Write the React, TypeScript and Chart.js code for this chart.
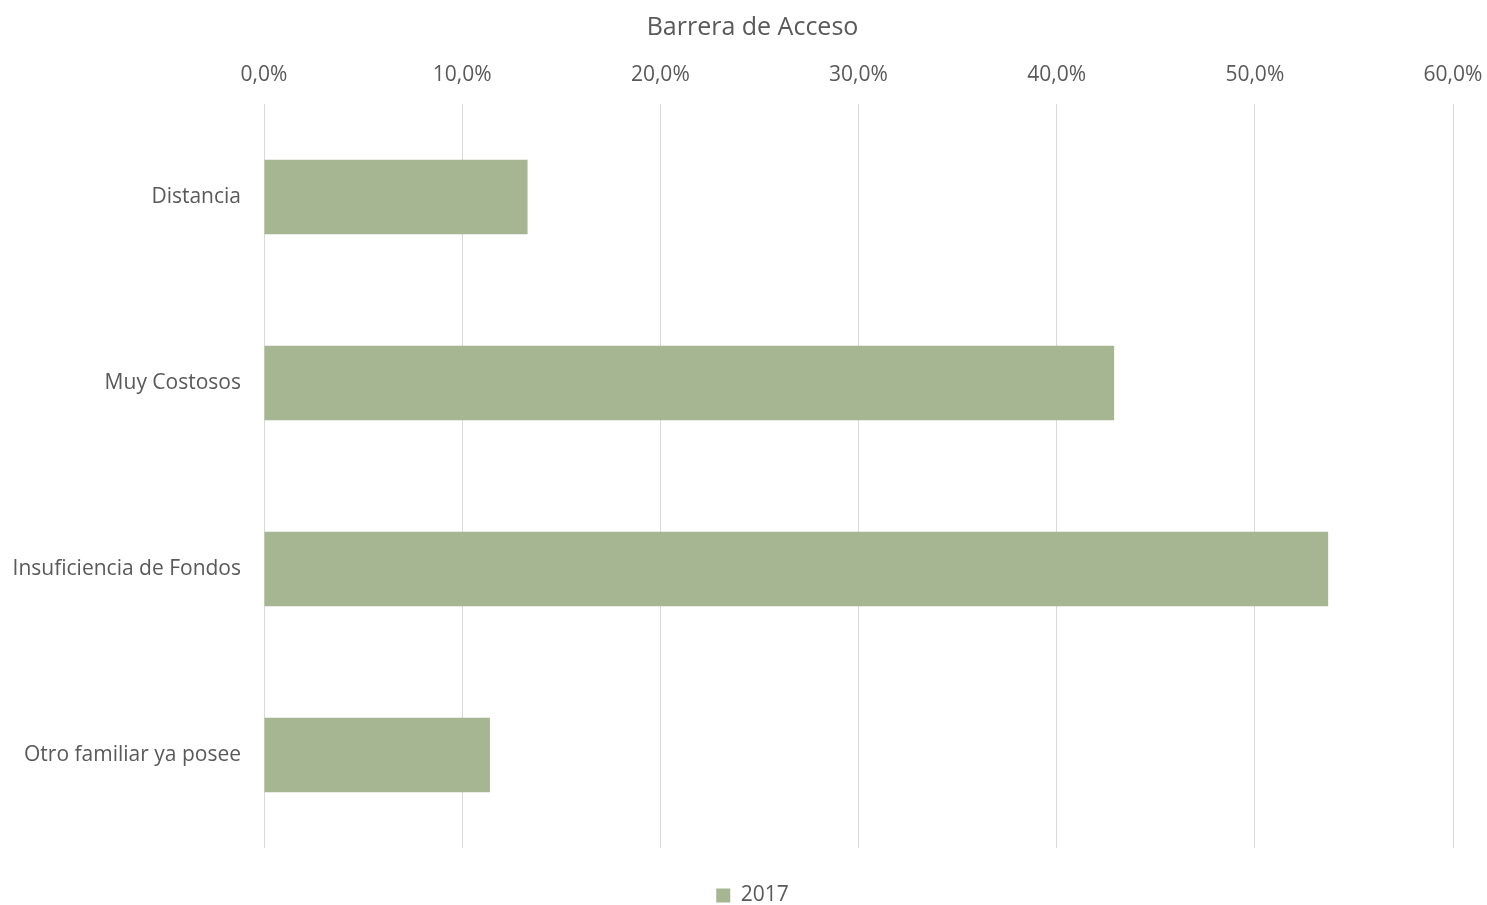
import React, { useEffect, useRef } from "react";
import { Chart, registerables } from "chart.js";

Chart.register(...registerables);

const categories = ["Distancia", "Muy Costosos", "Insuficiencia de Fondos", "Otro familiar ya posee"];
const values2017 = [13.3, 42.9, 53.7, 11.4];
const seriesLabel = "2017";
const chartTitle = "Barrera de Acceso";

const FONT = "'Open Sans', sans-serif";
const TEXT = "#595959";
const CANVAS_W = 1505;

export default function App() {
  const ref = useRef<HTMLCanvasElement | null>(null);
  useEffect(() => {
    if (!ref.current) return;
    const chart = new Chart(ref.current, {
      type: "bar",
      data: {
        labels: categories,
        datasets: [
          {
            label: seriesLabel,
            data: values2017,
            backgroundColor: "#a6b592",
            borderWidth: 0,
            barPercentage: 0.4,
            categoryPercentage: 1,
          },
        ],
      },
      options: {
        indexAxis: "y",
        animation: false,
        responsive: true,
        maintainAspectRatio: false,
        layout: { padding: { left: 0, right: 0, top: 0, bottom: 0 } },
        plugins: {
          title: {
            display: true,
            text: chartTitle,
            color: TEXT,
            font: { family: FONT, size: 25, weight: "normal", lineHeight: 1.2 },
            padding: { top: 13, bottom: 3 },
          },
          legend: {
            position: "bottom",
            maxHeight: 57,
            labels: {
              color: TEXT,
              font: { family: FONT, size: 21 },
              boxWidth: 14,
              boxHeight: 14,
              padding: 37,
            },
          },
          tooltip: { enabled: false },
        },
        scales: {
          x: {
            position: "top",
            min: 0,
            max: 60,
            ticks: {
              stepSize: 10,
              color: TEXT,
              font: { family: FONT, size: 21 },
              padding: 16,
              callback: (v: any) => Number(v).toFixed(1).replace(".", ",") + "%",
            },
            grid: { color: "#d9d9d9", lineWidth: 1, drawTicks: false },
            border: { display: false },
            afterFit: (scale: any) => {
              scale.height = 58;
              scale.paddingLeft = 0;
              scale.paddingRight = CANVAS_W - 1453;
            },
          },
          y: {
            ticks: {
              color: TEXT,
              font: { family: FONT, size: 21 },
              padding: 15,
            },
            grid: { display: false },
            border: { display: false },
            afterFit: (scale: any) => {
              scale.width = 264;
            },
          },
        },
      },
    });
    return () => chart.destroy();
  }, []);
  return (
    <div style={{ position: "fixed", left: 0, top: 0, width: CANVAS_W, height: 905, background: "#fff" }}>
      <canvas ref={ref} />
    </div>
  );
}
